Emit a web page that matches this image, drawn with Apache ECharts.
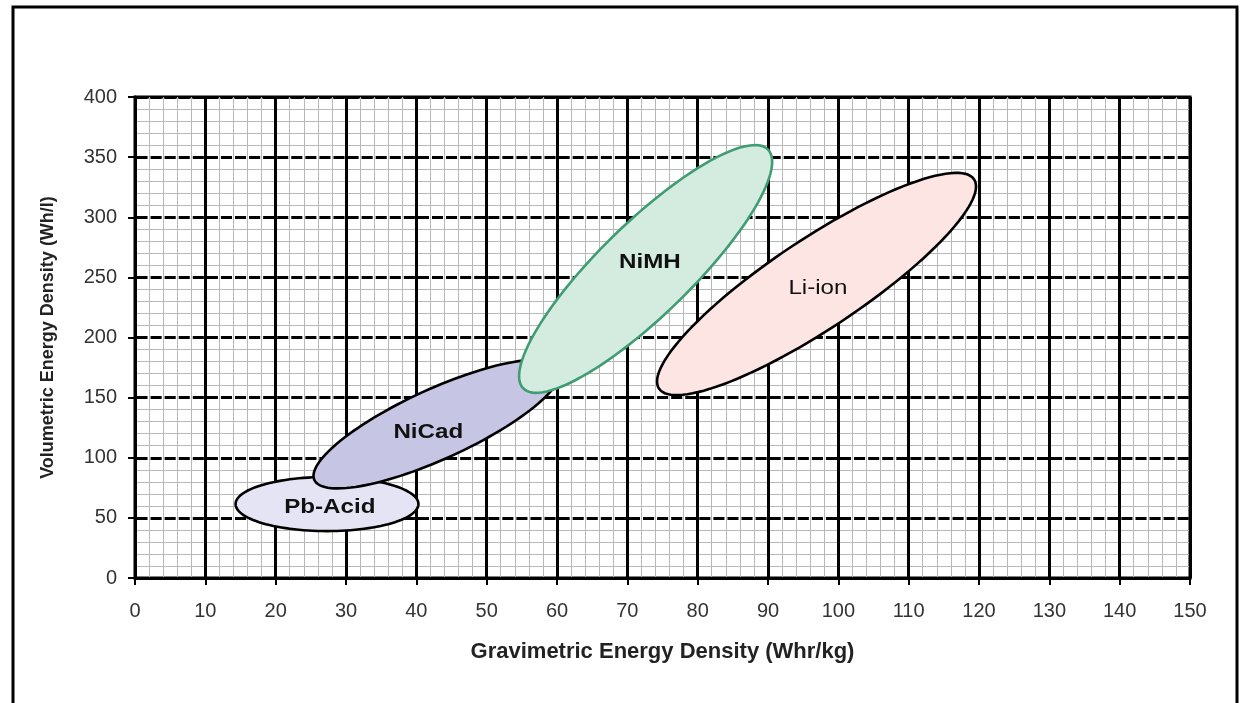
<!DOCTYPE html>
<html>
<head>
<meta charset="utf-8">
<script src="https://cdn.jsdelivr.net/npm/echarts@6/dist/echarts.min.js"></script>
<style>
html,body{margin:0;padding:0;background:#fff;}
#chart{width:1240px;height:703px;}
</style>
</head>
<body>
<div id="chart"></div>
<script>
// Battery chemistries and their regions (Gravimetric Wh/kg, Volumetric Wh/l)
const batteries = ['Pb-Acid', 'NiCad', 'NiMH', 'Li-ion'];
// ends of the long axis of each region
const lowEndX  = [14.3, 25.5, 55.2, 74.5];
const lowEndY  = [61.5, 81.5, 157.7, 157.5];
const highEndX = [40.3, 60.4, 90.0, 119.3];
const highEndY = [61.5, 174.6, 356.3, 331.5];
// half width of each region across its long axis (Wh/l)
const halfWidth = [22.5, 29.1, 38.3, 37.4];
// label anchor points
const labelX = [27.7, 41.7, 73.2, 97.1];
const labelY = [59.0, 121.4, 262.8, 241.2];
// axis ticks
const xTicks = [0, 150, 10];
const yTicks = [0, 400, 50];

const fills   = ['#e4e4f4', '#c6c6e4', '#d3ecdf', '#fde5e4'];
const strokes = ['#000000', '#000000', '#3f9c73', '#000000'];
const weights = ['bold', 'bold', 'bold', 'normal'];

const data = batteries.map((n, i) => [lowEndX[i], lowEndY[i], highEndX[i], highEndY[i], halfWidth[i], labelX[i], labelY[i], i]);

function renderItem(params, api) {
  const p1 = api.coord([api.value(0), api.value(1)]);
  const p2 = api.coord([api.value(2), api.value(3)]);
  const cx = (p1[0] + p2[0]) / 2, cy = (p1[1] + p2[1]) / 2;
  const a = Math.hypot(p2[0] - p1[0], p2[1] - p1[1]) / 2;
  const b = api.size([0, api.value(4)])[1];
  const ang = Math.atan2(p2[1] - p1[1], p2[0] - p1[0]);
  const ca = Math.cos(ang), sa = Math.sin(ang);
  const pts = [];
  for (let k = 0; k < 120; k++) {
    const t = k / 120 * Math.PI * 2;
    const u = a * Math.cos(t), v = b * Math.sin(t);
    pts.push([cx + u * ca - v * sa, cy + u * sa + v * ca]);
  }
  const i = api.value(7);
  const lp = api.coord([api.value(5), api.value(6)]);
  return {
    type: 'group',
    children: [
      { type: 'polygon', shape: { points: pts },
        style: { fill: fills[i], stroke: strokes[i], lineWidth: 2.6 } },
      { type: 'text', x: lp[0], y: lp[1], scaleX: 1.15, scaleY: 1,
        style: { x: 0, y: 0, text: batteries[i], fill: '#111',
                 font: weights[i] + ' 21px "Liberation Sans", Arial, sans-serif',
                 align: 'center', verticalAlign: 'middle' } }
    ]
  };
}

const chart = echarts.init(document.getElementById('chart'), null, { renderer: 'canvas' });
chart.setOption({
  backgroundColor: '#fff',
  animation: false,
  graphic: [{
    type: 'rect', z: 100,
    shape: { x: 13, y: 7, width: 1224, height: 720 },
    style: { fill: 'none', stroke: '#000', lineWidth: 3 }
  }],
  grid: { left: 135, right: 50, top: 97, bottom: 125, show: true, borderColor: '#000', borderWidth: 3, backgroundColor: '#fff' },
  xAxis: {
    type: 'value', min: xTicks[0], max: xTicks[1], interval: xTicks[2],
    name: 'Gravimetric Energy Density (Whr/kg)', nameLocation: 'middle', nameGap: 63,
    nameTextStyle: { fontFamily: '"Liberation Sans", Arial', fontWeight: 'bold', fontSize: 22, color: '#222' },
    axisLine: { lineStyle: { color: '#000', width: 3 } },
    axisTick: { length: 7, lineStyle: { color: '#000', width: 2 } },
    axisLabel: { fontFamily: '"Liberation Sans", Arial', fontSize: 20, color: '#333', margin: 23 },
    splitLine: { lineStyle: { color: '#000', width: 3 } },
    minorTick: { show: false, splitNumber: 5 },
    minorSplitLine: { show: true, lineStyle: { color: '#b8b8b8', width: 1 } }
  },
  yAxis: {
    type: 'value', min: yTicks[0], max: yTicks[1], interval: yTicks[2],
    name: 'Volumetric Energy Density (Wh/l)', nameLocation: 'middle', nameGap: 78, nameRotate: 90,
    nameTextStyle: { fontFamily: '"Liberation Sans", Arial', fontWeight: 'bold', fontSize: 18, color: '#222' },
    axisLine: { lineStyle: { color: '#000', width: 3 } },
    axisTick: { length: 7, lineStyle: { color: '#000', width: 2 } },
    axisLabel: { fontFamily: '"Liberation Sans", Arial', fontSize: 20, color: '#333', margin: 18 },
    splitLine: { lineStyle: { color: '#000', width: 3, type: [11.07, 3], dashOffset: -1.5 } },
    minorTick: { show: false, splitNumber: 5 },
    minorSplitLine: { show: true, lineStyle: { color: '#b8b8b8', width: 1 } }
  },
  series: [{
    type: 'custom',
    renderItem: renderItem,
    data: data,
    encode: { x: [0, 2], y: [1, 3] },
    clip: false,
    z: 10
  }]
});
</script>
</body>
</html>
